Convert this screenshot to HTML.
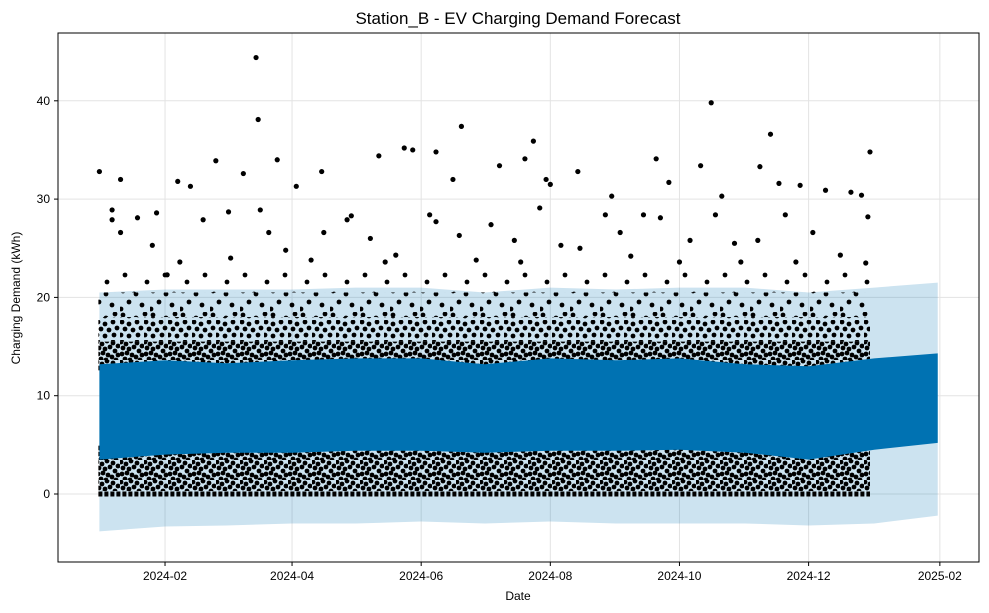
<!DOCTYPE html>
<html><head><meta charset="utf-8">
<style>
html,body{margin:0;padding:0;background:#fff;}
svg{display:block;font-family:"Liberation Sans","DejaVu Sans",sans-serif;}
</style></head>
<body>
<svg id="chart" width="989" height="613" viewBox="0 0 989 613" xmlns="http://www.w3.org/2000/svg">
<defs>
<pattern id="dense" width="24" height="20" patternUnits="userSpaceOnUse">
<g fill="#000">
<circle cx="1" cy="2" r="2.4"/><circle cx="6" cy="4" r="2.4"/><circle cx="11" cy="1" r="2.4"/><circle cx="17" cy="3" r="2.4"/><circle cx="22" cy="6" r="2.4"/>
<circle cx="3" cy="8" r="2.4"/><circle cx="9" cy="9" r="2.4"/><circle cx="14" cy="7" r="2.4"/><circle cx="19" cy="11" r="2.4"/>
<circle cx="2" cy="14" r="2.4"/><circle cx="7" cy="13" r="2.4"/><circle cx="12" cy="15" r="2.4"/><circle cx="16" cy="17" r="2.4"/><circle cx="22" cy="15" r="2.4"/>
<circle cx="5" cy="19" r="2.4"/><circle cx="10" cy="20" r="2.4"/><circle cx="20" cy="20" r="2.4"/>
</g></pattern>
<pattern id="mid" width="24" height="20" patternUnits="userSpaceOnUse">
<g fill="#000">
<circle cx="2" cy="2" r="2.4"/><circle cx="9" cy="4" r="2.4"/><circle cx="17" cy="2" r="2.4"/>
<circle cx="5" cy="9" r="2.4"/><circle cx="13" cy="10" r="2.4"/><circle cx="21" cy="8" r="2.4"/>
<circle cx="1" cy="15" r="2.4"/><circle cx="9" cy="16" r="2.4"/><circle cx="18" cy="15" r="2.4"/>
</g></pattern>
<pattern id="sparse" width="30" height="24" patternUnits="userSpaceOnUse">
<g fill="#000">
<circle cx="3" cy="3" r="2.4"/><circle cx="16" cy="6" r="2.4"/><circle cx="25" cy="2" r="2.4"/>
<circle cx="9" cy="14" r="2.4"/><circle cx="22" cy="17" r="2.4"/><circle cx="1" cy="21" r="2.4"/>
</g></pattern>
<pattern id="vsparse" width="40" height="30" patternUnits="userSpaceOnUse">
<g fill="#000">
<circle cx="5" cy="5" r="2.4"/><circle cx="27" cy="12" r="2.4"/><circle cx="14" cy="24" r="2.4"/>
</g></pattern>
<clipPath id="plotclip"><rect x="58" y="33" width="921" height="529"/></clipPath>
</defs>
<rect x="0" y="0" width="989" height="613" fill="#fff"/>
<text x="518" y="24" text-anchor="middle" font-size="17" fill="#000">Station_B - EV Charging Demand Forecast</text>
<g id="grid"></g>
<g id="series" clip-path="url(#plotclip)"></g>
<rect x="58" y="33" width="921" height="529" fill="none" stroke="#000" stroke-width="1"/>
<g id="axes"></g>
<text x="518" y="600" text-anchor="middle" font-size="12">Date</text>
<text transform="translate(20,298) rotate(-90)" text-anchor="middle" font-size="12">Charging Demand (kWh)</text>
</svg>
<script>
// ---- data ----
const bandDays = [0,31,60,91,121,152,182,213,244,274,305,335,366,396];
const yhatLow = [3.5,4.0,4.2,4.2,4.4,4.4,4.2,4.4,4.4,4.5,4.2,3.5,4.5,5.2];
const yhatHigh = [13.2,13.6,13.3,13.6,13.8,13.8,13.2,13.8,13.6,13.8,13.2,13.0,13.8,14.3];
const uncLow = [-3.8,-3.3,-3.2,-3.0,-3.0,-2.8,-3.0,-2.8,-3.0,-3.0,-3.0,-3.2,-3.0,-2.2];
const uncHigh = [20.5,20.8,20.8,20.8,21,21,20.5,21,20.8,21,21,20.5,21,21.5];
const histEndDay = 364;
const outDays = [74,75,289,171,144,148,205,317,364,84,201,55,68,105,132,159,189,263,284,312,226,0,37,43,10,93,119,167,211,213,242,257,269,294,321,331,343,355,360,363,6,6,10,18,27,25,49,61,76,80,88,106,117,128,135,156,159,170,185,196,208,218,239,246,265,279,291,300,311,324,337,350,362,32,38,62,100,140,178,199,227,251,274,303,329];
const outVals = [44.4,38.1,39.8,37.4,35.2,35.0,35.9,36.6,34.8,34.0,34.1,33.9,32.6,32.8,34.4,34.8,33.4,34.1,33.4,33.3,32.8,32.8,31.8,31.3,32.0,31.3,28.3,32.0,32.0,31.5,30.3,28.4,31.7,30.3,31.6,31.4,30.9,30.7,30.4,28.2,28.9,27.9,26.6,28.1,28.6,25.3,27.9,28.7,28.9,26.6,24.8,26.6,27.9,26.0,23.6,28.4,27.7,26.3,27.4,25.8,29.1,25.3,28.4,26.6,28.1,25.8,28.4,25.5,25.8,28.4,26.6,24.3,23.5,22.3,23.6,24.0,23.8,24.3,23.8,23.6,25.0,24.2,23.6,23.6,23.6];
const yTicks = [0,10,20,30,40];
const xTickDays = [31,91,152,213,274,335,397];
const xTickLabels = ["2024-02","2024-04","2024-06","2024-08","2024-10","2024-12","2025-02"];

// ---- scales ----
const X0 = 99.4, PX_PER_DAY = 2.117;
const xs = d => X0 + d*PX_PER_DAY;
const Y0 = 494, PX_PER_UNIT = 9.83;
const ys = v => Y0 - v*PX_PER_UNIT;
const NS = "http://www.w3.org/2000/svg";
function mk(tag, attrs, parent){const e=document.createElementNS(NS,tag);for(const k in attrs)e.setAttribute(k,attrs[k]);parent.appendChild(e);return e;}
const grid=document.getElementById('grid'), series=document.getElementById('series'), axes=document.getElementById('axes');

yTicks.forEach(v=>{
  const g=mk('line',{x1:58,x2:979,y1:ys(v),y2:ys(v),stroke:'#e3e3e3','stroke-width':1},grid);
  
  
  const t=mk('line',{x1:54,x2:58,y1:ys(v),y2:ys(v),stroke:'#000'},axes);
  
  
  const l=mk('text',{x:50,y:ys(v)+4,'text-anchor':'end','font-size':12},axes);
  l.textContent=v;
  
  
});
xTickDays.forEach((d,i)=>{
  const g=mk('line',{x1:xs(d),x2:xs(d),y1:33,y2:562,stroke:'#e3e3e3','stroke-width':1},grid);
  
  
  const t=mk('line',{x1:xs(d),x2:xs(d),y1:562,y2:566,stroke:'#000'},axes);
  
  
  const l=mk('text',{x:xs(d),y:580,'text-anchor':'middle','font-size':12},axes);
  l.textContent=xTickLabels[i];
  
  
});

function bandPath(lo,hi,maxDay){
  let up=[],dn=[];
  bandDays.forEach((d,i)=>{const dd=Math.min(d,maxDay);up.push(xs(dd)+','+ys(hi[i]));dn.push(xs(dd)+','+ys(lo[i]));});
  return 'M'+up.join(' L')+' L'+dn.reverse().join(' L')+' Z';
}
const ub=mk('path',{d:bandPath(uncLow,uncHigh,396),fill:'#0072B2','fill-opacity':0.2},series);



const hx0=xs(0)-1, hx1=xs(histEndDay);
function cloud(lo,hi,fill,name){
  const r=mk('rect',{x:hx0,y:ys(hi),width:hx1-hx0,height:ys(lo)-ys(hi),fill:fill},series);
  
  
}
cloud(20.5,23,'url(#vsparse)','observations-top-sparse');
cloud(18,20.5,'url(#sparse)','observations-upper-sparse');
cloud(15.5,18,'url(#mid)','observations-upper');
cloud(12.5,15.5,'url(#dense)','observations-upper-dense');
cloud(0.3,5,'url(#dense)','observations-lower');
const zr=mk('line',{x1:hx0,x2:hx1,y1:ys(0),y2:ys(0),stroke:'#000','stroke-width':5,'stroke-dasharray':'4 2'},series);



const yb=mk('path',{d:bandPath(yhatLow,yhatHigh,396),fill:'#0072B2'},series);



outDays.forEach((d,i)=>{
  const c=mk('circle',{cx:xs(d),cy:ys(outVals[i]),r:2.6,fill:'#000'},series);
  
  
});
</script>
</body></html>
